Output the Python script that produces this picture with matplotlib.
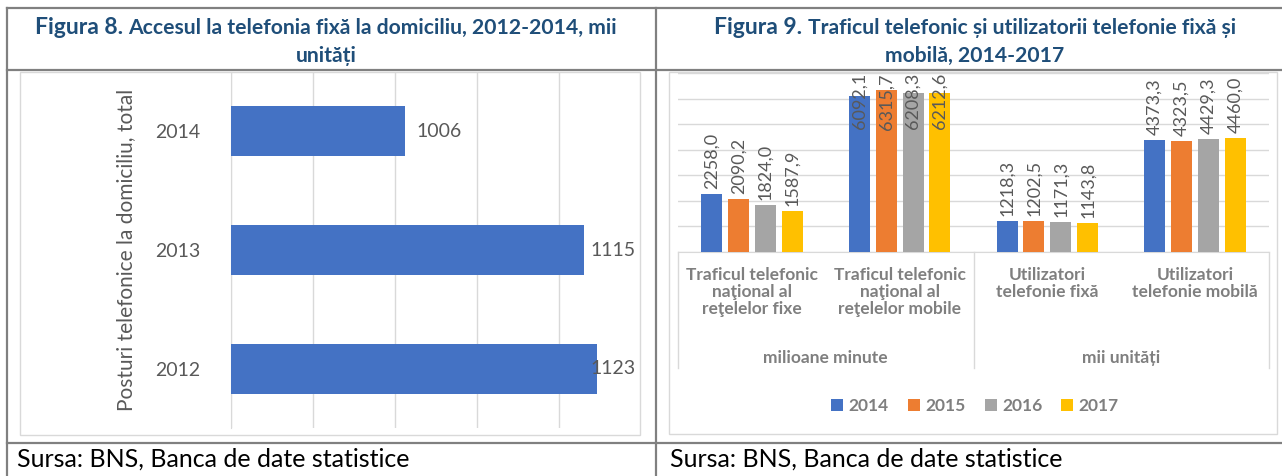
import matplotlib
matplotlib.use("Agg")
import matplotlib.pyplot as plt
from matplotlib.patches import Rectangle
import numpy as np

plt.rcParams['font.family'] = ['Lato', 'DejaVu Sans']

# Figura 8 data
years8 = ['2012', '2013', '2014']
phones8 = [1123, 1115, 1006]
axis_label8 = 'Posturi telefonice la domiciliu, total'

# Figura 9 data
categories9 = ['Traficul telefonic\nnaţional al\nreţelelor fixe',
               'Traficul telefonic\nnaţional al\nreţelelor mobile',
               'Utilizatori\ntelefonie fixă',
               'Utilizatori\ntelefonie mobilă']
units9 = ['milioane minute', 'mii unități']
years9 = ['2014', '2015', '2016', '2017']
v2014 = [2258.0, 6092.1, 1218.3, 4373.3]
v2015 = [2090.2, 6315.7, 1202.5, 4323.5]
v2016 = [1824.0, 6208.3, 1171.3, 4429.3]
v2017 = [1587.9, 6212.6, 1143.8, 4460.0]
colors9 = ['#4472C4', '#ED7D31', '#A5A5A5', '#FFC000']

title8 = ('Figura 8.', 'Accesul la telefonia fixă la domiciliu, 2012-2014, mii', 'unități')
title9 = ('Figura 9.', 'Traficul telefonic și utilizatorii telefonie fixă și', 'mobilă, 2014-2017')
source = 'Sursa: BNS, Banca de date statistice'

W, H = 1282, 476
fig = plt.figure(figsize=(W / 100, H / 100), dpi=100)
fig.patch.set_facecolor('white')


def px_axes(x0, y0, x1, y1, **kw):
    return fig.add_axes([x0 / W, 1 - y1 / H, (x1 - x0) / W, (y1 - y0) / H], **kw)


# table / page layout in pixel coordinates
bg = px_axes(0, 0, W, H)
bg.set_xlim(0, W)
bg.set_ylim(H, 0)
bg.axis('off')
line_c = '#808080'
for y in (8, 70, 443):
    bg.plot([7, W], [y, y], color=line_c, lw=1.6)
for x in (7, 656):
    bg.plot([x, x], [8, H], color=line_c, lw=1.6)
bg.add_patch(Rectangle((20, 72), 620, 363, fill=False, ec='#D9D9D9', lw=1))
bg.add_patch(Rectangle((669, 72), 608, 362, fill=False, ec='#D9D9D9', lw=1))

navy = '#1F4E79'
fig.canvas.draw()
renderer = fig.canvas.get_renderer()


def title_block(cx, parts):
    big, rest, line2 = parts
    t1 = bg.text(0, 28, big + ' ', fontsize=16.5, fontweight='bold', color=navy, va='center', ha='left')
    t2 = bg.text(0, 28, rest, fontsize=15.2, fontweight='bold', color=navy, va='center', ha='left')
    w1 = t1.get_window_extent(renderer).width
    w2 = t2.get_window_extent(renderer).width
    x0 = cx - (w1 + w2) / 2
    t1.set_x(x0)
    t2.set_x(x0 + w1)
    bg.text(cx, 56, line2, fontsize=15.2, fontweight='bold', color=navy, va='center', ha='center')


title_block(326, title8)
title_block(975, title9)
bg.text(17, 459, source, fontsize=18, color='black', va='center', ha='left')
bg.text(670, 459, source, fontsize=18, color='black', va='center', ha='left')

gray_txt = '#595959'
cat_txt = '#7F7F7F'

# ---- Figura 8: horizontal bars ----
ax1 = px_axes(231, 72, 638, 428)
ypos = np.arange(len(years8))
ax1.barh(ypos, phones8, height=0.42, color='#4472C4', zorder=3)
ax1.set_xlim(900, 1148)
ax1.set_ylim(-0.5, 2.5)
ax1.set_xticks([900, 950, 1000, 1050, 1100])
ax1.xaxis.grid(True, color='#D9D9D9', lw=1)
ax1.tick_params(axis='x', bottom=False, labelbottom=False)
ax1.set_yticks(ypos)
ax1.set_yticklabels(years8, fontsize=14, color=gray_txt)
ax1.tick_params(axis='y', length=0, pad=22)
for s in ('top', 'right', 'bottom'):
    ax1.spines[s].set_visible(False)
ax1.spines['left'].set_color('#D9D9D9')
ax1.set_ylabel(axis_label8, fontsize=15, color=gray_txt, labelpad=14)
ax1.set_facecolor('none')

fig.canvas.draw()
ax1_right = ax1.get_window_extent(renderer).x1
for yv, val in zip(ypos, phones8):
    t = ax1.annotate(str(val), (val, yv), xytext=(12, 0), textcoords='offset pixels',
                     va='center', ha='left', fontsize=14, color=gray_txt, zorder=4)
    if t.get_window_extent(renderer).x1 > ax1_right:
        t.set_position((-2, 0))
        t.xy = (ax1.get_xlim()[1], yv)
        t.set_ha('right')

# ---- Figura 9: grouped columns ----
ax2 = px_axes(678, 73, 1269, 252)
series9 = [v2014, v2015, v2016, v2017]
xg = np.arange(len(categories9))
step, bw = 0.182, 0.142
ax2.set_ylim(0, 7000)
ax2.set_xlim(-0.5, len(categories9) - 0.5)
ax2.set_yticks(np.arange(0, 7001, 1000))
ax2.yaxis.grid(True, color='#D9D9D9', lw=1)
ax2.set_axisbelow(True)
ax2.tick_params(axis='y', left=False, labelleft=False)
for s in ('top', 'right', 'left'):
    ax2.spines[s].set_visible(False)
ax2.spines['bottom'].set_color('#D9D9D9')
ax2.set_facecolor('none')

bars = []
for i, (vals, col, yr) in enumerate(zip(series9, colors9, years9)):
    b = ax2.bar(xg + (i - 1.5) * step, vals, width=bw, color=col, label=yr, zorder=3)
    bars.append(b)

ax2.set_xticks(xg)
ax2.set_xticklabels(categories9, fontsize=12.5, fontweight='bold', color=cat_txt, linespacing=1.08)
ax2.tick_params(axis='x', length=0, pad=11)

fig.canvas.draw()
ax2_top = ax2.get_window_extent(renderer).y1
for b in bars:
    for rect in b:
        val = rect.get_height()
        cx = rect.get_x() + rect.get_width() / 2
        lab = f'{val:.1f}'.replace('.', ',')
        t = ax2.annotate(lab, (cx, val), xytext=(0, 5), textcoords='offset pixels',
                         rotation=90, ha='center', va='bottom', fontsize=13,
                         color=gray_txt, zorder=4)
        if t.get_window_extent(renderer).y1 > ax2_top:
            t.xy = (cx, ax2.get_ylim()[1])
            t.set_position((0, 0))
            t.set_va('top')

# two-level category axis
trans = ax2.get_xaxis_transform()
for xs in (-0.5, 1.5, 3.5):
    ax2.plot([xs, xs], [0, -0.65], transform=trans, color='#D9D9D9', lw=1, clip_on=False)
for k, u in enumerate(units9):
    ax2.text(0.5 + 2 * k, -0.59, u, transform=trans, ha='center', va='center',
             fontsize=12.5, fontweight='bold', color=cat_txt)

ax2.legend(loc='center', bbox_to_anchor=(975 / W, 1 - 406 / H), bbox_transform=fig.transFigure,
           ncol=4, frameon=False, handlelength=0.7, handleheight=0.7, handletextpad=0.3,
           columnspacing=1.1, prop={'size': 12.5, 'weight': 'bold'}, labelcolor=cat_txt)

fig.savefig('out.png', dpi=100)
